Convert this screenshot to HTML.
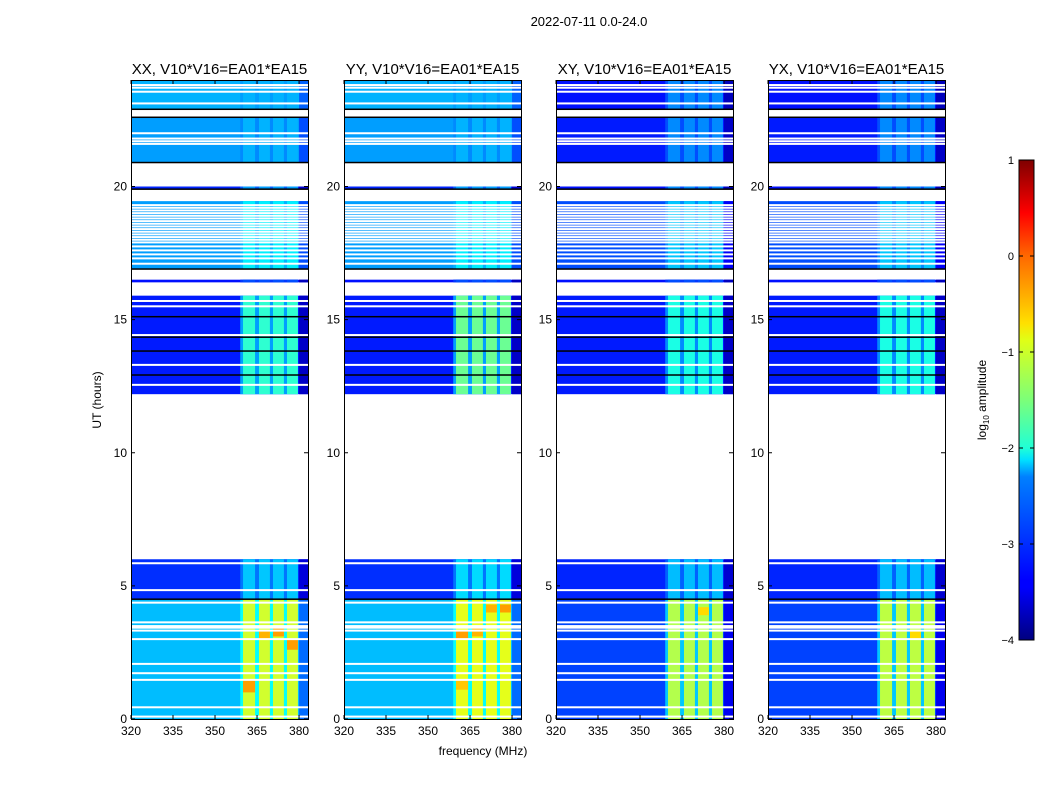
<!DOCTYPE html>
<html><head><meta charset="utf-8">
<style>
body{margin:0;background:#fff;font-family:"Liberation Sans",sans-serif;}
svg text{font-family:"Liberation Sans",sans-serif;}
</style></head>
<body>
<svg id="fig" width="1050" height="800" xmlns="http://www.w3.org/2000/svg">
<defs>
<linearGradient id="jet" x1="0" y1="1" x2="0" y2="0">
<stop offset="0" stop-color="#00007f"/><stop offset="0.11" stop-color="#0000ff"/>
<stop offset="0.125" stop-color="#0000ff"/><stop offset="0.34" stop-color="#0080ff"/>
<stop offset="0.375" stop-color="#00e0ff"/><stop offset="0.4" stop-color="#20ffd6"/>
<stop offset="0.5" stop-color="#7cff79"/><stop offset="0.625" stop-color="#e0ff16"/>
<stop offset="0.66" stop-color="#ffe000"/><stop offset="0.8" stop-color="#ff6800"/>
<stop offset="0.89" stop-color="#ff0000"/><stop offset="1" stop-color="#7f0000"/>
</linearGradient>
</defs>
<text x="589" y="26" font-size="13" text-anchor="middle">2022-07-11 0.0-24.0</text>
<text x="483" y="755" font-size="12" text-anchor="middle">frequency (MHz)</text>
<text x="0" y="0" font-size="12" text-anchor="middle" transform="translate(101,400) rotate(-90)">UT (hours)</text>
<g id="panels"></g>
<g id="cbar">
<rect x="1019" y="160" width="15" height="480" fill="url(#jet)" stroke="#000" stroke-width="1"/>
</g>
<text x="0" y="0" font-size="12" text-anchor="middle" transform="translate(986,400) rotate(-90)">log<tspan font-size="8" dy="3">10</tspan><tspan dy="-3"> amplitude</tspan></text>
</svg>
<script>
const panelTitles = ["XX, V10*V16=EA01*EA15","YY, V10*V16=EA01*EA15","XY, V10*V16=EA01*EA15","YX, V10*V16=EA01*EA15"];
const xTicks = [320,335,350,365,380];
const yTicks = [0,5,10,15,20];
const cbTicks = [1,0,-1,-2,-3,-4];
// time segments with data (hours)
const segStart = [0, 4.5, 12.2, 16.4, 16.9, 19.9, 20.9, 22.9];
const segEnd   = [4.5, 6.0, 15.9, 16.5, 19.45, 20.0, 22.6, 24.0];
// base log amplitude per segment for each panel
const baseXX = [-2.45,-3.15,-3.25,-3.3,-2.6,-3.2,-2.6,-2.5];
const baseYY = [-2.45,-3.15,-3.25,-3.3,-2.6,-3.2,-2.6,-2.5];
const baseXY = [-3.05,-3.2,-3.25,-3.3,-3.0,-3.3,-3.25,-3.3];
const baseYX = [-3.05,-3.2,-3.25,-3.3,-3.0,-3.3,-3.25,-3.3];
// RFI band level per segment
const bandXX = [-1.1,-2.4,-1.9,-3.0,-2.2,-2.6,-2.5,-2.5];
const bandYY = [-1.0,-2.3,-1.6,-3.0,-2.2,-2.6,-2.5,-2.5];
const bandXY = [-1.25,-2.45,-2.0,-3.0,-2.4,-2.7,-2.7,-2.7];
const bandYX = [-1.2,-2.45,-2.0,-3.0,-2.4,-2.7,-2.7,-2.7];
// level between RFI channels per segment
const gapXX = [-2.1,-2.8,-2.6,-3.1,-2.5,-2.9,-2.7,-2.6];
const gapXY = [-2.4,-2.9,-2.7,-3.1,-2.7,-3.0,-3.0,-3.0];
// RFI channel ranges (MHz)
const bandLo = [360.0, 365.7, 370.7, 375.7];
const bandHi = [364.3, 369.6, 374.6, 379.6];
// hot spots: panel, band, h0, h1, level
const hotPanel = [0,0,0,0,1,1,1,1,1,2,3];
const hotBand  = [0,1,2,3,0,1,2,3,0,2,2];
const hotH0    = [1.0,3.0,3.1,2.6,3.0,3.1,4.0,4.0,1.1,3.9,3.0];
const hotH1    = [1.5,3.3,3.5,3.0,3.3,3.4,4.3,4.3,1.5,4.2,3.3];
const hotLvl   = [-0.4,-0.5,-0.4,-0.4,-0.4,-0.5,-0.5,-0.4,-0.6,-0.7,-0.7];
// flagged (white) and dark lines, hours
const whiteLines = [0.09,0.44,1.47,1.72,2.07,3.0,3.32,3.43,3.49,3.63,4.37,4.84,5.85,12.55,13.3,14.42,15.5,15.7,
  17.1,17.3,17.45,17.6,17.75,17.9,18.0,18.1,18.2,18.3,18.4,18.5,18.6,18.7,18.8,18.9,19.0,19.1,19.2,19.3,
  21.6,21.7,21.8,22.0,23.12,23.56,23.71,23.81];
const darkLines = [4.5,12.92,13.82,14.34,15.11,16.9,19.9,22.6,22.9,20.9];

const px0 = [131,344,556,768], pw = 177, yTop = 80, yBot = 719;
const F0 = 320, F1 = 383.2, H0 = 0, H1 = 24;
const xs = (f,i) => px0[i] + (f-F0)/(F1-F0)*pw;
const ys = h => yBot - (h-H0)/(H1-H0)*(yBot-yTop);
function jet(v){
  let t=(v+4)/5; t=Math.max(0,Math.min(1,t));
  const c=x=>Math.round(255*Math.max(0,Math.min(1,x)));
  return `rgb(${c(1.5-Math.abs(4*t-3))},${c(1.5-Math.abs(4*t-2))},${c(1.5-Math.abs(4*t-1))})`;
}
const NS="http://www.w3.org/2000/svg";
function mk(tag,attrs,parent){const e=document.createElementNS(NS,tag);for(const k in attrs)e.setAttribute(k,attrs[k]);parent.appendChild(e);return e;}
const bases=[baseXX,baseYY,baseXY,baseYX], bands=[bandXX,bandYY,bandXY,bandYX], gaps=[gapXX,gapXX,gapXY,gapXY];
const root=document.getElementById('panels');
for(let i=0;i<4;i++){
  const g=mk('g',{},root);
  
  
  const cp=mk('clipPath',{id:'cp'+i},g);
  mk('rect',{x:px0[i],y:yTop,width:pw,height:yBot-yTop},cp);
  const hm=mk('g',{'clip-path':`url(#cp${i})`},g);
  for(let s=0;s<segStart.length;s++){
    const y1=ys(segEnd[s]), y0=ys(segStart[s]);
    const r=mk('rect',{x:px0[i],y:y1,width:pw,height:y0-y1,fill:jet(bases[i][s])},hm);
    
    
    const gx=xs(bandLo[0]-1,i), gw=xs(bandHi[bandHi.length-1],i)-gx;
    const gr=mk('rect',{x:gx,y:y1,width:gw,height:y0-y1,fill:jet(gaps[i][s])},hm);
    
    
    const ex=xs(380,i);
    const er=mk('rect',{x:ex,y:y1,width:px0[i]+pw-ex,height:y0-y1,fill:jet(bases[i][s]-0.4)},hm);
    
    
    for(let b=0;b<bandLo.length;b++){
      const x=xs(bandLo[b],i), w=xs(bandHi[b],i)-x;
      const br=mk('rect',{x:x,y:y1,width:w,height:y0-y1,fill:jet(bands[i][s])},hm);
      
      
    }
  }
  for(let k=0;k<hotPanel.length;k++){
    if(hotPanel[k]!==i)continue;
    const b=hotBand[k], x=xs(bandLo[b],i), w=xs(bandHi[b],i)-x, y1=ys(hotH1[k]), y0=ys(hotH0[k]);
    const hr=mk('rect',{x:x,y:y1,width:w,height:y0-y1,fill:jet(hotLvl[k])},hm);
    
    
  }
  for(const h of whiteLines){
    const l=mk('rect',{x:px0[i],y:ys(h)-1,width:pw,height:2,fill:'#fff'},hm);
    
    
  }
  for(const h of darkLines){
    const l=mk('rect',{x:px0[i],y:ys(h)-0.75,width:pw,height:1.5,fill:'#000'},hm);
    
    
  }
  const fr=mk('rect',{x:px0[i]+0.5,y:yTop+0.5,width:pw,height:yBot-yTop,fill:'none',stroke:'#000','stroke-width':1},g);
  
  
  const t=mk('text',{x:px0[i]+pw/2,y:74,'font-size':15,'text-anchor':'middle'},g);
  t.textContent=panelTitles[i];
  
  
  for(const f of xTicks){
    const x=xs(f,i);
    mk('line',{x1:x,x2:x,y1:yBot,y2:yBot-4,stroke:'#000'},g);
    mk('line',{x1:x,x2:x,y1:yTop,y2:yTop+4,stroke:'#000'},g);
    const tl=mk('text',{x:x,y:yBot+16,'font-size':12,'text-anchor':'middle'},g);
    tl.textContent=f;
    
    
  }
  for(const h of yTicks){
    const y=ys(h);
    mk('line',{x1:px0[i],x2:px0[i]+4,y1:y,y2:y,stroke:'#000'},g);
    mk('line',{x1:px0[i]+pw,x2:px0[i]+pw-4,y1:y,y2:y,stroke:'#000'},g);
    const tl=mk('text',{x:px0[i]-4,y:y+4,'font-size':12,'text-anchor':'end'},g);
    tl.textContent=h;
    
    
  }
}
const cb=document.getElementById('cbar');
for(const v of cbTicks){
  const y=160+(1-v)/5*480;
  mk('line',{x1:1019,x2:1023,y1:y,y2:y,stroke:'#000'},cb);
  mk('line',{x1:1034,x2:1030,y1:y,y2:y,stroke:'#000'},cb);
  const tl=mk('text',{x:1014,y:y+4,'font-size':11,'text-anchor':'end'},cb);
  tl.textContent=v<0?'\u2212'+(-v):v;
  
  
}
</script>
</body></html>
